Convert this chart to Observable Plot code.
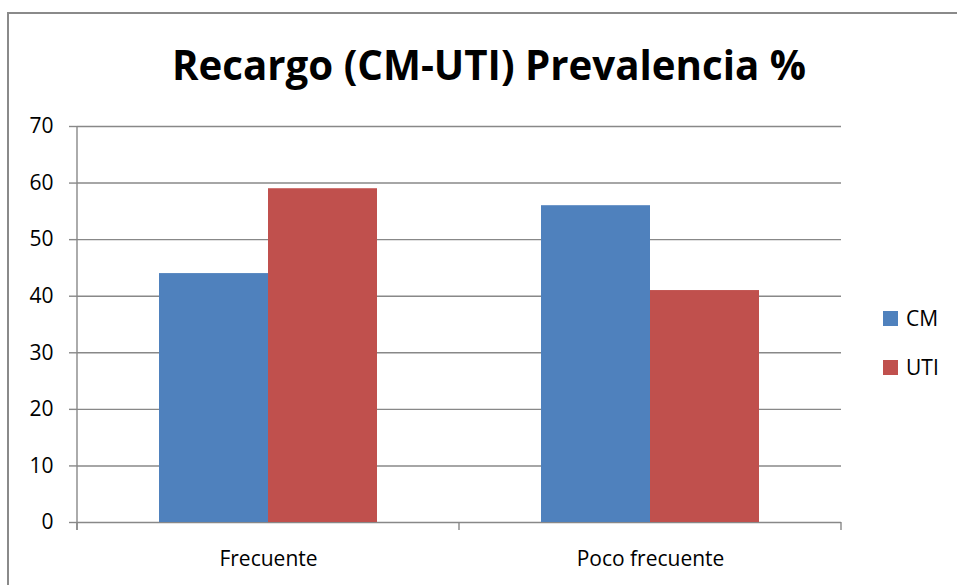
<!DOCTYPE html>
<html>
<head>
<meta charset="utf-8">
<script src="https://cdn.jsdelivr.net/npm/d3@7"></script>
<script src="https://cdn.jsdelivr.net/npm/@observablehq/plot@0.6"></script>
<style>
  html, body { margin: 0; padding: 0; background: #fff; }
  #wrap { position: relative; width: 957px; height: 585px; overflow: hidden; font-family: "Open Sans", sans-serif; }
  #border { position: absolute; left: 7px; top: 12px; width: 1000px; height: 1000px; border: 2px solid #8a8a8a; box-sizing: border-box; }
  #chart { position: absolute; left: 0; top: 0; }
  #title { position: absolute; left: 0; top: 0; white-space: nowrap; font-weight: bold; color: #000; }
  #legend { position: absolute; left: 883px; top: 0; font-size: 21px; color: #000; }
  .item { position: absolute; left: 0; display: flex; align-items: center; white-space: nowrap; }
  .sw { width: 15px; height: 15px; margin-right: 8px; }
</style>
</head>
<body>
<div id="wrap">
  <div id="border"></div>
  <div id="chart"></div>
  <div id="title"></div>
  <div id="legend"></div>
</div>
<script>
const titleText = "Recargo (CM-UTI) Prevalencia %";
const categories = ["Frecuente", "Poco frecuente"];
const series = ["CM", "UTI"];
const cmValues = [44, 56];
const utiValues = [59, 41];
const colors = ["#4F81BD", "#C0504D"];
const yTicks = [0, 10, 20, 30, 40, 50, 60, 70];

const valuesBySeries = {CM: cmValues, UTI: utiValues};
const rows = [];
categories.forEach((c, i) => series.forEach(s => rows.push({category: c, series: s, value: valuesBySeries[s][i]})));

const gridColor = "#888888";

const chart = Plot.plot({
  width: 957,
  height: 585,
  marginLeft: 77,
  marginRight: 116,
  marginTop: 126,
  marginBottom: 63,
  style: {fontFamily: "Open Sans, sans-serif", fontSize: "21px", color: "#000", background: "transparent", overflow: "visible"},
  fx: {domain: categories, paddingInner: 0, paddingOuter: 0, label: null, axis: null},
  x: {domain: series, paddingInner: 0, paddingOuter: 0.75, axis: null},
  y: {domain: [0, 70], label: null},
  color: {domain: series, range: colors},
  marks: [
    Plot.gridY(yTicks, {stroke: gridColor, strokeOpacity: 1, strokeWidth: 1.4}),
    Plot.axisY(yTicks, {tickSize: 8, tickPadding: 16, stroke: gridColor, strokeWidth: 1.4, label: null, fill: "#000"}),
    Plot.barY(rows, {fx: "category", x: "series", y: "value", fill: "series"}),
    Plot.axisFx({anchor: "bottom", tickSize: 0, tickPadding: 29, label: null, fill: "#000"})
  ]
});
document.getElementById("chart").appendChild(chart);

// Excel-style axis line and category boundary ticks, from Plot's own scales
const fxS = chart.scale("fx");
const yS = chart.scale("y");
const svg = d3.select(chart);
const y0 = yS.apply(0), yTop = yS.apply(70);
const tickLen = 8;
const bounds = categories.map(c => fxS.apply(c));
bounds.push(fxS.apply(categories[categories.length - 1]) + fxS.bandwidth);
const g = svg.append("g").attr("stroke", gridColor).attr("stroke-width", 1.4);
g.append("line").attr("x1", bounds[0]).attr("x2", bounds[0]).attr("y1", yTop).attr("y2", y0 + tickLen);
bounds.forEach(b => g.append("line").attr("x1", b).attr("x2", b).attr("y1", y0).attr("y2", y0 + tickLen));

// Title fitted to the chart width
const title = document.getElementById("title");
title.textContent = titleText;
const ctx = document.createElement("canvas").getContext("2d");
ctx.font = "bold 40px 'Open Sans'";
const w40 = ctx.measureText(titleText).width;
const fs = Math.min(40.5, 40 * 634 / w40);
title.style.fontSize = fs + "px";
title.style.lineHeight = "1";
const tw = title.getBoundingClientRect().width;
title.style.left = (489 - tw / 2) + "px";
title.style.top = (78 - fs * 0.82) + "px";

// Legend
const legend = document.getElementById("legend");
const legendY = [318, 367];
series.forEach((s, i) => {
  const item = document.createElement("div");
  item.className = "item";
  item.style.top = (legendY[i] - 15) + "px";
  item.style.height = "30px";
  const sw = document.createElement("div");
  sw.className = "sw";
  sw.style.background = colors[i];
  const t = document.createElement("span");
  t.textContent = s;
  item.appendChild(sw);
  item.appendChild(t);
  legend.appendChild(item);
});
</script>
</body>
</html>
